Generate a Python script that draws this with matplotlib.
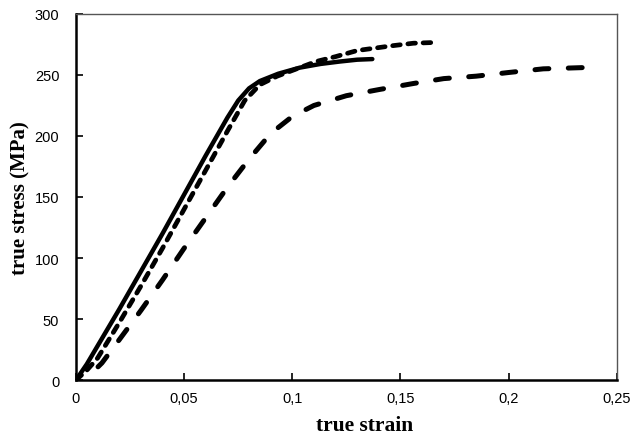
import matplotlib
matplotlib.use("Agg")
import matplotlib.pyplot as plt
import numpy as np

plt.rcParams['lines.scale_dashes'] = False

# Solid curve
strain_a = [0.0, 0.005, 0.01, 0.02, 0.03, 0.04, 0.05, 0.06, 0.07, 0.075, 0.08, 0.085, 0.0935, 0.1035, 0.113, 0.122, 0.13, 0.137]
stress_a = [0, 13, 28, 58, 89, 120, 152, 184, 215, 229, 239, 245, 251, 256, 259, 261, 262.5, 263]

# Short-dashed curve
strain_b = [0.0, 0.005, 0.01, 0.02, 0.03, 0.04, 0.05, 0.06, 0.07, 0.078, 0.085, 0.093, 0.102, 0.111, 0.120, 0.130, 0.1465, 0.156, 0.164]
stress_b = [0, 8, 18, 47, 77, 108, 140, 172, 204, 229, 242, 249, 255, 261, 265, 270, 274, 276, 276.5]

# Long-dashed curve
strain_c = [0.004, 0.012, 0.02, 0.03, 0.04, 0.05, 0.06, 0.07, 0.08, 0.09, 0.1, 0.110, 0.125, 0.140, 0.156, 0.170, 0.185, 0.200, 0.216, 0.234]
stress_c = [0, 14, 33, 57, 82, 108, 133, 158, 181, 202, 216, 225, 233, 238, 243, 247, 249, 252, 255, 256]

x_ticks = [0, 0.05, 0.1, 0.15, 0.2, 0.25]
x_ticklabels = ["0", "0,05", "0,1", "0,15", "0,2", "0,25"]
y_ticks = [0, 50, 100, 150, 200, 250, 300]

fig = plt.figure(figsize=(6.3, 4.39), dpi=100)
ax = fig.add_axes([0.1206, 0.132, 0.8584, 0.834])
ax.set_xlim(0, 0.25)
ax.set_ylim(0, 300)


def end_offset(xs, ys, on, off):
    pts = ax.transData.transform(np.column_stack([xs, ys]))
    L = np.sum(np.hypot(*np.diff(pts, axis=0).T)) * 72.0 / fig.dpi
    return (on - L) % (on + off)


ax.plot(strain_a, stress_a, color='black', lw=3.2, solid_capstyle='round', solid_joinstyle='round')
on_b, off_b = 5.5, 5.5
ax.plot(strain_b, stress_b, color='black', lw=3.4,
        linestyle=(end_offset(strain_b, stress_b, on_b, off_b), (on_b, off_b)), dash_capstyle='round')
on_c, off_c = 10.0, 14.0
ax.plot(strain_c, stress_c, color='black', lw=3.6,
        linestyle=(end_offset(strain_c, stress_c, on_c, off_c), (on_c, off_c)), dash_capstyle='round')

ax.set_xticks(x_ticks)
ax.set_xticklabels(x_ticklabels)
ax.set_yticks(y_ticks)

for lab in ax.get_xticklabels() + ax.get_yticklabels():
    lab.set_fontfamily('Liberation Sans')
    lab.set_fontsize(10.5)

ax.tick_params(direction='in', length=5, width=1.2, top=False, right=False)
ax.tick_params(axis='y', pad=12)
ax.tick_params(axis='x', pad=8)

for s in ['left', 'bottom']:
    ax.spines[s].set_linewidth(1.8)
    ax.spines[s].set_color('black')
for s in ['top', 'right']:
    ax.spines[s].set_linewidth(1.0)
    ax.spines[s].set_color('#555555')

ax.set_xlabel('true strain', fontfamily='Liberation Serif', fontweight='bold', fontsize=15.5)
ax.set_ylabel('true stress (MPa)', fontfamily='Liberation Serif', fontweight='bold', fontsize=15)
ax.xaxis.set_label_coords(0.534, -0.095)
ax.yaxis.set_label_coords(-0.085, 0.5)

fig.savefig('out.png', dpi=100, facecolor='white')
